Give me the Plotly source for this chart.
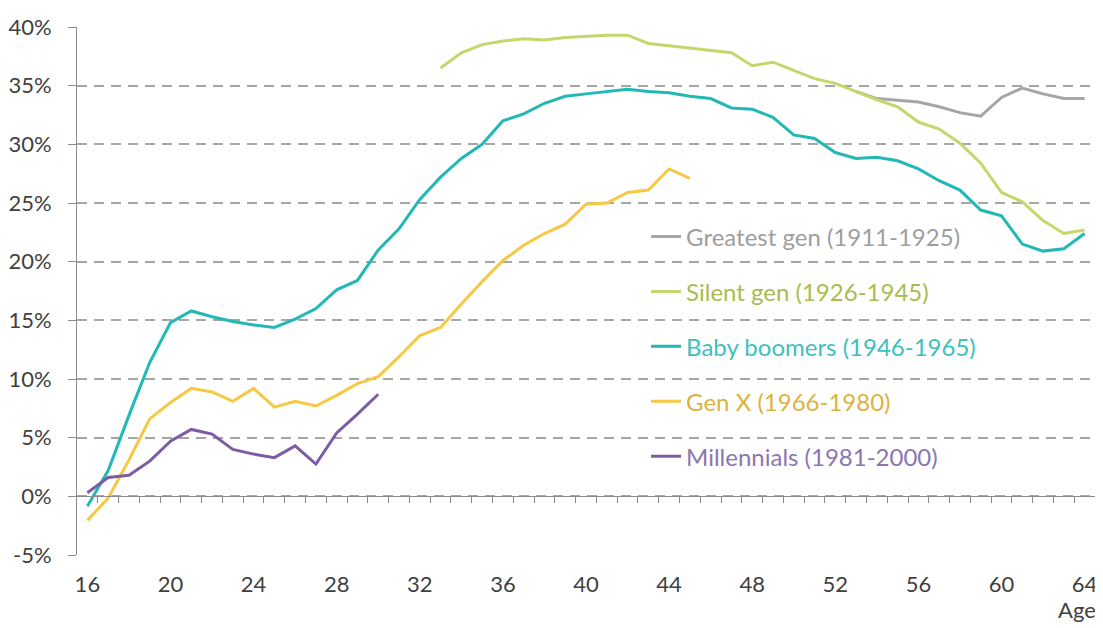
import plotly.graph_objects as go

# ---- data (share, %) by age ----
greatest_age = list(range(53, 65))
greatest = [34.5, 33.9, 33.75, 33.6, 33.2, 32.7, 32.4, 34.0, 34.8, 34.3, 33.9, 33.9]

silent_age = list(range(33, 65))
silent = [36.5, 37.8, 38.5, 38.8, 39.0, 38.9, 39.1, 39.2, 39.3, 39.3, 38.6, 38.4,
          38.2, 38.0, 37.8, 36.7, 37.0, 36.3, 35.6, 35.2, 34.5, 33.8, 33.2, 31.9,
          31.3, 30.1, 28.4, 25.9, 25.1, 23.5, 22.4, 22.7]

boomers_age = list(range(16, 65))
boomers = [-0.85, 2.2, 6.9, 11.4, 14.8, 15.8, 15.3, 14.9, 14.6, 14.4, 15.1, 16.0,
           17.6, 18.4, 21.0, 22.8, 25.3, 27.2, 28.8, 30.0, 32.0, 32.6, 33.5, 34.1,
           34.3, 34.5, 34.7, 34.5, 34.4, 34.1, 33.9, 33.1, 33.0, 32.3, 30.8, 30.5,
           29.3, 28.8, 28.9, 28.6, 27.9, 26.9, 26.1, 24.4, 23.9, 21.5, 20.9, 21.1, 22.4]

genx_age = list(range(16, 46))
genx = [-2.05, -0.15, 3.1, 6.6, 8.0, 9.2, 8.9, 8.1, 9.2, 7.6, 8.1, 7.7, 8.6, 9.6,
        10.2, 11.9, 13.7, 14.4, 16.4, 18.3, 20.1, 21.4, 22.4, 23.2, 24.9, 25.0,
        25.9, 26.1, 27.9, 27.1]

mill_age = list(range(16, 31))
mill = [0.3, 1.6, 1.8, 3.0, 4.7, 5.7, 5.3, 4.0, 3.6, 3.3, 4.3, 2.75, 5.4, 7.0, 8.7]

names = ["Greatest gen (1911-1925)", "Silent gen (1926-1945)", "Baby boomers (1946-1965)",
         "Gen X (1966-1980)", "Millennials (1981-2000)"]
colors = ["#A6A6A6", "#C3D86C", "#22B8B6", "#F6C843", "#7B5CA5"]
text_colors = ["#9E9E9E", "#A9BC4E", "#3DBFBE", "#DDB23E", "#8B76B0"]

x_ticks = list(range(16, 65, 4))
y_ticks = list(range(-5, 41, 5))
y_labels = [f"{v}%" for v in y_ticks]
minor_ticks = [a + 0.5 for a in range(16, 65)]

series = [(greatest_age, greatest), (silent_age, silent), (boomers_age, boomers),
          (genx_age, genx), (mill_age, mill)]

FONT = "Lato"
TICK_SIZE = 22
fig = go.Figure()
for i, ((xs, ys), nm) in enumerate(zip(series, names)):
    fig.add_trace(go.Scatter(
        x=xs, y=ys, mode="lines",
        line=dict(color=colors[i], width=3),
        name=f'<span style="color:{text_colors[i]}">{nm}</span>',
        legendgroup=f"g{i}",
    ))

# dummy trace to host the zero-line axis
fig.add_trace(go.Scatter(x=[None], y=[None], xaxis="x2", showlegend=False, hoverinfo="skip"))

fig.update_layout(
    width=1095, height=620,
    margin=dict(l=69, r=8, t=19, b=73, autoexpand=False),
    paper_bgcolor="white", plot_bgcolor="white",
    font=dict(family=FONT, size=TICK_SIZE, color="#404040"),
    showlegend=True,
    legend=dict(x=0.559, y=0.645, xanchor="left", yanchor="top",
                bgcolor="rgba(0,0,0,0)", tracegroupgap=20.7,
                font=dict(family=FONT, size=24)),
    xaxis=dict(range=[15.5, 64.5], tickvals=x_ticks, showgrid=False, zeroline=False,
               showline=False, ticks="", ticklabelstandoff=14, automargin=False,
               tickfont=dict(family=FONT, size=TICK_SIZE, color="#404040")),
    xaxis2=dict(range=[15.5, 64.5], overlaying="x", anchor="free", position=5 / 45,
                side="bottom", showline=True, linecolor="#8C8C8C", linewidth=1,
                ticks="outside", ticklen=6, tickcolor="#8C8C8C", tickvals=minor_ticks,
                showticklabels=False, showgrid=False, zeroline=False, automargin=False),
    yaxis=dict(range=[-5, 40], tickvals=y_ticks, ticktext=y_labels, showgrid=True,
               gridcolor="#A6A6A6", griddash="10px,7px", gridwidth=1.5, zeroline=False,
               showline=True, linecolor="#8C8C8C", linewidth=1, automargin=False,
               ticks="outside", ticklen=8, tickcolor="#8C8C8C", ticklabelstandoff=12,
               tickfont=dict(family=FONT, size=TICK_SIZE, color="#404040")),
    annotations=[dict(text="Age", xref="paper", yref="paper", x=1.003, y=-0.104,
                      xanchor="right", yanchor="middle", showarrow=False,
                      font=dict(family=FONT, size=TICK_SIZE, color="#404040"))],
)

fig.write_html("out.html")
